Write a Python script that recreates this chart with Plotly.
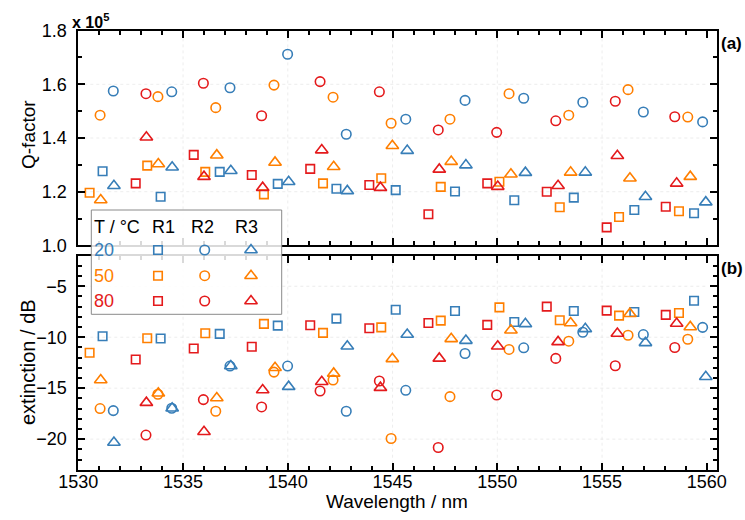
import plotly.graph_objects as go

# ---------------- data ----------------
temperatures = ["20", "50", "80"]
resonances = ["R1", "R2", "R3"]

# T = 20 °C
wl_20_r1 = [1531.16, 1533.93, 1536.75, 1539.52, 1542.32, 1545.15, 1547.98, 1550.81, 1553.65, 1556.54, 1559.39]
q_20_r1 = [1.276, 1.181, 1.274, 1.229, 1.211, 1.206, 1.201, 1.168, 1.178, 1.132, 1.120]
ext_20_r1 = [-9.9, -10.13, -9.67, -8.86, -8.17, -7.3, -7.42, -8.5, -7.42, -7.52, -6.42]

wl_20_r2 = [1531.67, 1534.46, 1537.24, 1539.99, 1542.79, 1545.63, 1548.46, 1551.26, 1554.08, 1556.97, 1559.80]
q_20_r2 = [1.575, 1.572, 1.587, 1.712, 1.414, 1.470, 1.540, 1.548, 1.533, 1.497, 1.460]
ext_20_r2 = [-17.2, -16.97, -12.83, -12.83, -17.26, -15.21, -11.6, -11.04, -9.51, -9.74, -9.03]

wl_20_r3 = [1531.70, 1534.48, 1537.28, 1540.04, 1542.84, 1545.70, 1548.50, 1551.34, 1554.20, 1557.07, 1559.95]
q_20_r3 = [1.222, 1.291, 1.278, 1.237, 1.203, 1.353, 1.299, 1.271, 1.272, 1.181, 1.161]
ext_20_r3 = [-20.33, -16.97, -12.83, -14.85, -10.88, -9.74, -10.33, -8.69, -9.18, -10.55, -13.88]

# T = 50 °C
wl_50_r1 = [1530.54, 1533.29, 1536.06, 1538.86, 1541.68, 1544.46, 1547.30, 1550.10, 1552.98, 1555.81, 1558.67]
q_50_r1 = [1.196, 1.297, 1.274, 1.190, 1.231, 1.250, 1.218, 1.237, 1.142, 1.106, 1.127]
ext_50_r1 = [-11.53, -10.1, -9.61, -8.69, -9.57, -9.03, -8.37, -7.07, -8.34, -7.88, -7.62]

wl_50_r2 = [1531.04, 1533.80, 1536.56, 1539.34, 1542.16, 1544.93, 1547.74, 1550.56, 1553.41, 1556.24, 1559.09]
q_50_r2 = [1.485, 1.554, 1.513, 1.597, 1.552, 1.455, 1.470, 1.565, 1.485, 1.580, 1.478]
ext_50_r2 = [-17.0, -15.6, -17.26, -13.42, -14.2, -19.94, -15.83, -11.2, -10.39, -9.81, -10.2]

wl_50_r3 = [1531.07, 1533.82, 1536.61, 1539.39, 1542.19, 1544.99, 1547.80, 1550.65, 1553.50, 1556.33, 1559.21]
q_50_r3 = [1.169, 1.303, 1.336, 1.309, 1.293, 1.371, 1.312, 1.265, 1.272, 1.250, 1.256]
ext_50_r3 = [-14.2, -15.5, -15.96, -13.0, -13.55, -12.12, -10.16, -9.32, -8.6, -7.69, -8.99]

# T = 80 °C
wl_80_r1 = [1532.74, 1535.51, 1538.28, 1541.07, 1543.89, 1546.71, 1549.52, 1552.36, 1555.22, 1558.04]
q_80_r1 = [1.231, 1.337, 1.262, 1.285, 1.225, 1.116, 1.231, 1.200, 1.067, 1.144]
ext_80_r1 = [-12.18, -11.1, -10.94, -8.83, -9.12, -8.6, -8.79, -7.0, -7.39, -7.81]

wl_80_r2 = [1533.23, 1535.97, 1538.75, 1541.54, 1544.37, 1547.18, 1549.97, 1552.79, 1555.63, 1558.47]
q_80_r2 = [1.565, 1.604, 1.483, 1.610, 1.572, 1.430, 1.421, 1.464, 1.537, 1.479]
ext_80_r2 = [-19.6, -16.12, -16.84, -15.28, -14.3, -20.82, -15.67, -12.08, -12.8, -11.01]

wl_80_r3 = [1533.25, 1536.00, 1538.80, 1541.62, 1544.42, 1547.23, 1550.02, 1552.90, 1555.73, 1558.56]
q_80_r3 = [1.403, 1.256, 1.215, 1.355, 1.215, 1.283, 1.219, 1.222, 1.334, 1.231]
ext_80_r3 = [-16.42, -19.28, -15.18, -14.37, -14.95, -12.08, -10.88, -10.46, -9.64, -8.66]

x_range = [1530, 1560.5]
x_ticks = [1530, 1535, 1540, 1545, 1550, 1555, 1560]
q_range = [1.0, 1.8]
q_ticks = [1.0, 1.2, 1.4, 1.6, 1.8]
ext_range = [-23, -2]
ext_ticks = [-20, -15, -10, -5]

# ---------------- styling / layout ----------------
colors = {"20": "#377eb8", "50": "#ff7f00", "80": "#e41a1c"}
symbols = {"R1": "square-open", "R2": "circle-open", "R3": "triangle-up-open"}
sizes = {"R1": 8.5, "R2": 9.5, "R3": 11}

series = {
    ("20", "R1"): (wl_20_r1, q_20_r1, ext_20_r1),
    ("20", "R2"): (wl_20_r2, q_20_r2, ext_20_r2),
    ("20", "R3"): (wl_20_r3, q_20_r3, ext_20_r3),
    ("50", "R1"): (wl_50_r1, q_50_r1, ext_50_r1),
    ("50", "R2"): (wl_50_r2, q_50_r2, ext_50_r2),
    ("50", "R3"): (wl_50_r3, q_50_r3, ext_50_r3),
    ("80", "R1"): (wl_80_r1, q_80_r1, ext_80_r1),
    ("80", "R2"): (wl_80_r2, q_80_r2, ext_80_r2),
    ("80", "R3"): (wl_80_r3, q_80_r3, ext_80_r3),
}

W, H = 745, 520
PLOT_L, PLOT_R = 78.3, 717.3
TOP_T, TOP_B = 30.6, 245.4
BOT_T, BOT_B = 255.7, 469.7
FONT = "Liberation Sans, Arial, sans-serif"


def fx(p):
    return p / W


def fy(p):
    return 1 - p / H


fig = go.Figure()

for (t, r), (wl, q, ext) in series.items():
    mk = dict(symbol=symbols[r], size=sizes[r], color=colors[t], line=dict(width=1.6, color=colors[t]))
    fig.add_trace(go.Scatter(x=wl, y=q, mode="markers", marker=mk, xaxis="x", yaxis="y",
                             showlegend=False, name=f"{t} °C {r}"))
    fig.add_trace(go.Scatter(x=wl, y=ext, mode="markers", marker=mk, xaxis="x2", yaxis="y2",
                             showlegend=False, name=f"{t} °C {r}"))

# ---- custom table legend drawn on a pixel overlay axis ----
LEG_L, LEG_R, LEG_T, LEG_B = 91.3, 281.7, 210.0, 314.3
leg_cols = [158.0, 204.7, 251.0]
leg_rows = [250.0, 275.7, 301.0]
fig.add_trace(go.Scatter(
    x=[LEG_L, LEG_R, LEG_R, LEG_L, LEG_L], y=[LEG_T, LEG_T, LEG_B, LEG_B, LEG_T],
    mode="lines", fill="toself", fillcolor="rgba(255,255,255,0.85)",
    line=dict(color="#8a8a8a", width=1), xaxis="x3", yaxis="y3",
    showlegend=False, hoverinfo="skip"))
for t, ry in zip(temperatures, leg_rows):
    for r, cx in zip(resonances, leg_cols):
        fig.add_trace(go.Scatter(
            x=[cx], y=[ry], mode="markers", xaxis="x3", yaxis="y3", showlegend=False, hoverinfo="skip",
            marker=dict(symbol=symbols[r], size=sizes[r], color=colors[t], line=dict(width=1.6, color=colors[t]))))

tickfont = dict(family=FONT, size=18, color="black")
common_x = dict(range=x_range, tickvals=x_ticks, ticks="inside", ticklen=7, tickwidth=1.5, tickcolor="black",
                minor=dict(dtick=1, tick0=1530, ticks="inside", ticklen=4, tickwidth=1.5, tickcolor="black"),
                showline=True, linewidth=2, linecolor="black", mirror="ticks", showgrid=False,
                zeroline=False, tickfont=tickfont, domain=[fx(PLOT_L), fx(PLOT_R)], automargin=False)

fig.update_layout(
    template="simple_white",
    width=W, height=H, margin=dict(l=0, r=0, t=0, b=0, autoexpand=False),
    paper_bgcolor="white", plot_bgcolor="rgba(0,0,0,0)",
    font=dict(family=FONT, size=17, color="black"),
    xaxis=dict(common_x, anchor="y", showticklabels=False, matches="x2"),
    xaxis2=dict(common_x, anchor="y2", ticklabelstandoff=-5),
    yaxis=dict(range=q_range, tickvals=q_ticks, tickformat=".1f", ticks="inside", ticklen=7, tickwidth=1.5,
               tickcolor="black", minor=dict(dtick=0.1, tick0=1.0, ticks="inside", ticklen=4, tickwidth=1.5,
                                             tickcolor="black"),
               showline=True, linewidth=2, linecolor="black", mirror="ticks", showgrid=False, zeroline=False,
               tickfont=tickfont, domain=[fy(TOP_B), fy(TOP_T)], anchor="x", ticklabelstandoff=6,
               automargin=False),
    yaxis2=dict(range=ext_range, tickvals=ext_ticks, ticks="inside", ticklen=7, tickwidth=1.5,
                tickcolor="black", minor=dict(dtick=1, tick0=-23, ticks="inside", ticklen=4, tickwidth=1.5,
                                              tickcolor="black"),
                showline=True, linewidth=2, linecolor="black", mirror="ticks", showgrid=False, zeroline=False,
                tickfont=tickfont, domain=[fy(BOT_B), fy(BOT_T)], anchor="x2", ticklabelstandoff=6,
                automargin=False),
    xaxis3=dict(domain=[0, 1], range=[0, W], visible=False, showticklabels=False, anchor="y3",
                fixedrange=True, automargin=False),
    yaxis3=dict(domain=[0, 1], range=[H, 0], visible=False, showticklabels=False, anchor="x3",
                fixedrange=True, automargin=False),
)

# dotted grid lines at the labelled ticks
grid = dict(color="#c4c4c4", width=1, dash="dot")
for xv in x_ticks[1:-1]:
    fig.add_shape(type="line", xref="x", yref="y", x0=xv, x1=xv, y0=q_range[0], y1=q_range[1], line=grid, layer="below")
    fig.add_shape(type="line", xref="x2", yref="y2", x0=xv, x1=xv, y0=ext_range[0], y1=ext_range[1], line=grid, layer="below")
for yv in q_ticks[1:-1]:
    fig.add_shape(type="line", xref="x", yref="y", x0=x_ticks[0], x1=x_ticks[-1], y0=yv, y1=yv, line=grid, layer="below")
for yv in ext_ticks:
    fig.add_shape(type="line", xref="x2", yref="y2", x0=x_ticks[0], x1=x_ticks[-1], y0=yv, y1=yv, line=grid, layer="below")


def ann(text, x, y, size=17, color="black", angle=0, xanchor="center", bold=False):
    if bold:
        text = f"<b>{text}</b>"
    fig.add_annotation(text=text, x=fx(x), y=fy(y), xref="paper", yref="paper", showarrow=False,
                       font=dict(family=FONT, size=size, color=color), textangle=angle,
                       xanchor=xanchor, yanchor="middle")


ann("Q-factor", 28, 134, size=19, angle=-90)
ann("extinction / dB", 28, 362, size=20, angle=-90)
ann("Wavelength / nm", 397.5, 501, size=19)
ann("x 10<sup>5</sup>", 70, 21, size=16, xanchor="left", bold=True)
ann("(a)", 731.5, 43, size=17, bold=True)
ann("(b)", 731.5, 268, size=17, bold=True)

# legend table text
ann("T / °C", 92, 226.7, size=18, xanchor="left")
for r, cx in zip(resonances, [163.3, 202.3, 246.7]):
    ann(r, cx, 226.7, size=18)
for t, ry in zip(temperatures, leg_rows):
    ann(t, 104, ry, size=18, color=colors[t])

fig.write_html("out.html", config={"displayModeBar": False},
               post_script="document.body.style.margin='0';")
